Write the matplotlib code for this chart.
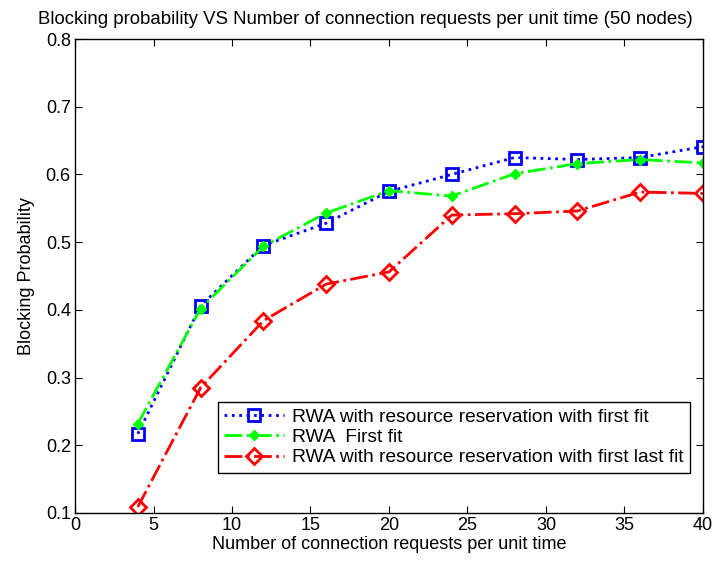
import numpy as np
import matplotlib
matplotlib.use("Agg")
import matplotlib.pyplot as plt

plt.rcParams['font.family'] = ['Liberation Sans', 'DejaVu Sans']

requests = [4, 8, 12, 16, 20, 24, 28, 32, 36, 40]
rr_first_fit = [0.217, 0.406, 0.495, 0.528, 0.575, 0.600, 0.625, 0.622, 0.625, 0.641]
first_fit = [0.232, 0.402, 0.494, 0.543, 0.576, 0.568, 0.601, 0.616, 0.622, 0.617]
rr_first_last_fit = [0.109, 0.285, 0.384, 0.438, 0.456, 0.540, 0.542, 0.546, 0.574, 0.572]

labels = ["RWA with resource reservation with first fit",
          "RWA  First fit",
          "RWA with resource reservation with first last fit"]

fig = plt.figure(figsize=(7.18, 5.62), dpi=100)
ax = fig.add_axes([0.1045, 0.0872, 0.8745, 0.8434])

ax.plot(requests, rr_first_fit, color='#0000ff', linestyle=':', linewidth=2,
        marker='s', markersize=9, mfc='none', mec='#0000ff', mew=2, label=labels[0])
ax.plot(requests, first_fit, color='#00ff00', linestyle='-.', linewidth=2,
        marker='D', markersize=5, mfc='#00ff00', mec='#00ff00', label=labels[1])
ax.plot(requests, rr_first_last_fit, color='#ff0000', linestyle='-.', linewidth=2,
        marker='D', markersize=8, mfc='none', mec='#ff0000', mew=2, label=labels[2])

ax.set_xlim(0, 40)
ax.set_ylim(0.1, 0.8)
ax.set_xticks(np.arange(0, 41, 5))
ax.set_yticks(np.arange(0.1, 0.81, 0.1))
ax.tick_params(direction='in', top=True, right=True, labelsize=13, length=5, pad=3)
for s in ax.spines.values():
    s.set_linewidth(1)

ax.set_xlabel("Number of connection requests per unit time", fontsize=13, labelpad=1)
ax.set_ylabel("Blocking Probability", fontsize=13, labelpad=8)
ax.set_title("Blocking probability VS Number of connection requests per unit time (50 nodes)",
             fontsize=13.4, pad=11, x=0.462)

leg = ax.legend(loc='lower right', bbox_to_anchor=(0.979, 0.084), fontsize=13.8,
                fancybox=False, edgecolor='black', framealpha=1,
                handlelength=3.1, handletextpad=0.4, borderaxespad=0,
                labelspacing=0.15, borderpad=0.35)
leg.get_frame().set_linewidth(1)

fig.savefig("out.png", dpi=100)
